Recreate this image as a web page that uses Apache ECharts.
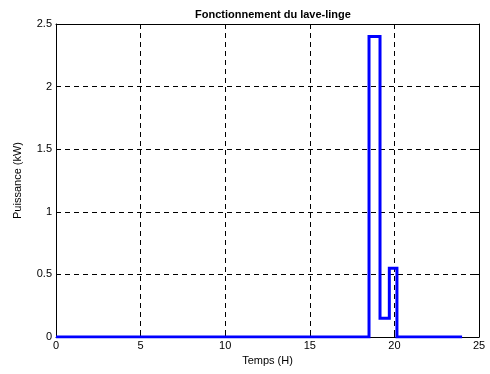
<!DOCTYPE html>
<html><head><meta charset="utf-8">
<script src="https://cdn.jsdelivr.net/npm/echarts@6/dist/echarts.min.js"></script>
<style>html,body{margin:0;padding:0;background:#fff}#c{width:490px;height:374px}</style>
</head><body><div id="c"></div>
<script>
const times = [0, 18.5, 19.15, 19.7, 20.15, 24];
const power = [0, 2.4, 0.15, 0.55, 0, 0];
const xTicks = [0, 5, 10, 15, 20, 25];
const yTicks = [0, 0.5, 1, 1.5, 2, 2.5];
const FONT = '"Liberation Sans", Arial, sans-serif';
const chart = echarts.init(document.getElementById('c'));
const axisCommon = {
  axisLine: {show: true, onZero: false, lineStyle: {color: '#000', width: 1}},
  axisTick: {show: true, inside: true, length: 4, lineStyle: {color: '#000'}},
};
chart.setOption({
  animation: false,
  title: {text: 'Fonctionnement du lave-linge', left: 268, top: 4, textAlign: 'center',
    textStyle: {fontFamily: FONT, fontSize: 11, fontWeight: 'bold', color: '#000'}},
  grid: {left: 56, right: 11, top: 24, bottom: 37},
  xAxis: [{
    type: 'value', min: 0, max: 25, interval: 5, position: 'bottom',
    name: 'Temps (H)', nameLocation: 'middle', nameGap: 18,
    nameTextStyle: {fontFamily: FONT, fontSize: 11, color: '#000'},
    axisLabel: {fontFamily: FONT, fontSize: 11, color: '#000', margin: 3},
    splitLine: {show: true, lineStyle: {color: '#000', type: [5, 4], width: 1}},
    ...axisCommon
  }, {
    type: 'value', min: 0, max: 25, interval: 5, position: 'top',
    axisLabel: {show: false}, splitLine: {show: false}, ...axisCommon
  }],
  yAxis: [{
    type: 'value', min: 0, max: 2.5, interval: 0.5, position: 'left',
    name: 'Puissance (kW)', nameLocation: 'middle', nameGap: 33, nameRotate: 90,
    nameTextStyle: {fontFamily: FONT, fontSize: 11, color: '#000'},
    axisLabel: {fontFamily: FONT, fontSize: 11, color: '#000', margin: 4},
    splitLine: {show: true, lineStyle: {color: '#000', type: [5, 4], width: 1}},
    ...axisCommon
  }, {
    type: 'value', min: 0, max: 2.5, interval: 0.5, position: 'right',
    axisLabel: {show: false}, splitLine: {show: false}, ...axisCommon
  }],
  series: [{
    type: 'line', step: 'end', showSymbol: false, symbol: 'none',
    data: times.map((t, i) => [t, power[i]]),
    lineStyle: {color: '#0000ff', width: 3, join: 'miter'},
    z: 10
  }]
});
</script></body></html>
